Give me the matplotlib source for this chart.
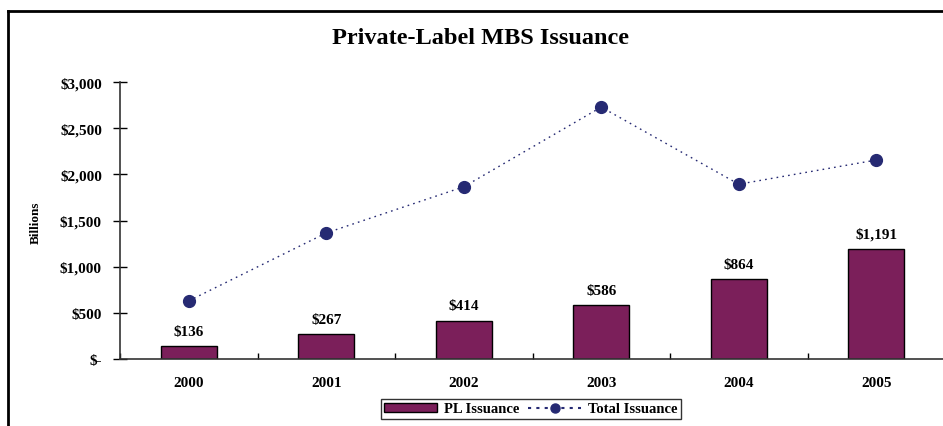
import matplotlib
matplotlib.use("Agg")
import matplotlib.pyplot as plt
from matplotlib.lines import Line2D
from matplotlib.patches import Patch

# data (billions)
years = ['2000', '2001', '2002', '2003', '2004', '2005']
pl_issuance = [136, 267, 414, 586, 864, 1191]
total_issuance = [630, 1365, 1865, 2728, 1893, 2155]
y_ticks = [0, 500, 1000, 1500, 2000, 2500, 3000]

bar_color = '#7B1F5A'
line_color = '#262A73'
serif = ['Liberation Serif', 'DejaVu Serif']

plt.rcParams['font.family'] = serif

fig = plt.figure(figsize=(9.43, 4.27), dpi=100)
ax = fig.add_axes([120 / 943, 67 / 427, 825 / 943, 277 / 427])

x = list(range(len(years)))
ax.bar(x, pl_issuance, width=0.41, color=bar_color, edgecolor='black', linewidth=1.0, zorder=2)
ax.plot(x, total_issuance, color=line_color, linestyle=(0, (1.2, 3)), linewidth=1.0,
        marker='o', markersize=8.5, markerfacecolor=line_color, markeredgecolor=line_color, zorder=3)

for xi, v in zip(x, pl_issuance):
    ax.text(xi, v + 90, '${:,}'.format(v), ha='center', va='bottom',
            fontsize=11, fontweight='bold')

ax.set_xlim(-0.5, len(years) - 0.5)
ax.set_ylim(0, 3000)
ax.set_yticks(y_ticks)
ax.set_yticklabels(['$-' if t == 0 else '${:,}'.format(t) for t in y_ticks],
                   fontsize=11, fontweight='bold')
ax.set_xticks(x)
ax.set_xticklabels(years, fontsize=11, fontweight='bold')
ax.set_xticks([i - 0.5 for i in range(len(years) + 1)], minor=True)
ax.tick_params(axis='x', which='major', length=0, pad=12)
ax.tick_params(axis='x', which='minor', direction='in', length=4, width=1)
ax.tick_params(axis='y', direction='inout', length=10, width=1, pad=8)

for s in ['top', 'right']:
    ax.spines[s].set_visible(False)
for s in ['left', 'bottom']:
    ax.spines[s].set_color('#333333')
    ax.spines[s].set_linewidth(1.2)

fig.text(36 / 943, 1 - 223 / 427, 'Billions', rotation=90, ha='center', va='center',
         fontsize=9.5, fontweight='bold')

fig.text(481 / 943, 1 - 38 / 427, 'Private-Label MBS Issuance', ha='center', va='center',
         fontsize=17.5, fontweight='bold')

# outer frame lines
fig.add_artist(Line2D([8 / 943, 1.0], [1 - 12 / 427, 1 - 12 / 427], color='black', linewidth=2))
fig.add_artist(Line2D([8 / 943, 8 / 943], [0, 1 - 12 / 427], color='black', linewidth=2))

handles = [Patch(facecolor=bar_color, edgecolor='black', linewidth=1.0),
           Line2D([], [], color=line_color, linestyle=(0, (1.5, 2.5)), linewidth=1.5,
                  marker='o', markersize=6.5, markerfacecolor=line_color, markeredgecolor=line_color)]
leg = fig.legend(handles, ['PL Issuance', 'Total Issuance'], loc='center',
                 bbox_to_anchor=(531 / 943, 1 - 410 / 427), ncol=2, frameon=True, fancybox=False,
                 prop={'family': serif, 'weight': 'bold', 'size': 10.5},
                 handlelength=3.6, handleheight=0.55, columnspacing=0.6, handletextpad=0.5,
                 borderpad=0.25, edgecolor='black')
leg.get_frame().set_linewidth(1.0)

fig.savefig('out.png', dpi=100)
